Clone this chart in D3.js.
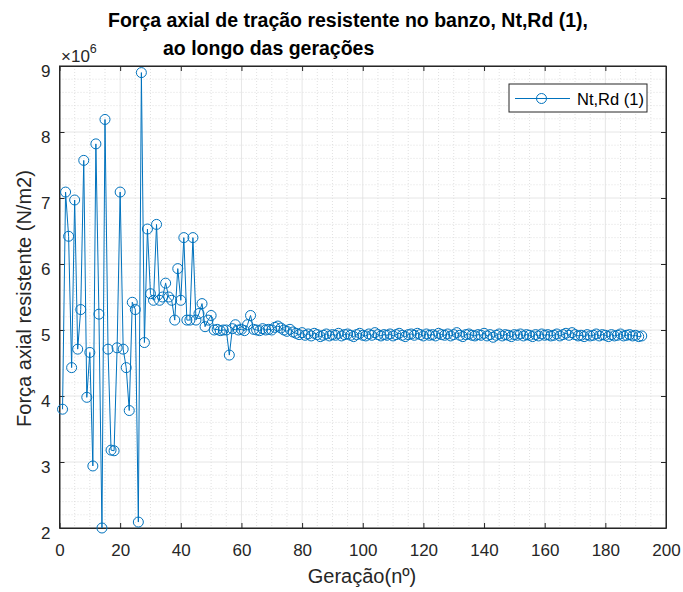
<!DOCTYPE html>
<html><head><meta charset="utf-8">
<script src="https://cdn.jsdelivr.net/npm/d3@7"></script>
<style>body{margin:0;background:#fff}svg{display:block}text{font-family:"Liberation Sans",Arial,sans-serif}</style>
</head><body>
<svg id="c" width="683" height="592"></svg>
<script>
// Values in units of 10^6 N/m2, generation 1..192
const values = [
 3.80,7.09,6.42,4.43,6.97,4.71,5.31,7.57,3.98,4.66,
 2.94,7.82,5.24,2.00,8.19,4.71,3.18,3.17,4.73,7.09,
 4.71,4.43,3.78,5.42,5.31,2.09,8.90,4.81,6.53,5.55,
 5.45,6.60,5.45,5.50,5.71,5.50,5.45,5.15,5.93,5.45,
 6.40,5.15,5.15,6.40,5.15,5.25,5.40,5.05,5.15,5.22,
 5.00,5.01,4.99,5.00,5.00,4.62,5.02,5.08,5.00,5.01,
 4.99,5.08,5.22,5.01,5.00,4.99,5.02,5.00,5.01,5.00,
 5.04,5.06,5.03,5.00,4.98,5.01,4.97,4.95,4.93,4.96,
 4.92,4.94,4.91,4.95,4.93,4.90,4.92,4.94,4.91,4.93,
 4.92,4.95,4.91,4.93,4.94,4.92,4.90,4.93,4.95,4.92,
 4.91,4.94,4.92,4.96,4.93,4.91,4.93,4.92,4.94,4.91,
 4.93,4.95,4.92,4.90,4.93,4.94,4.92,4.95,4.93,4.91,
 4.94,4.92,4.93,4.91,4.95,4.93,4.92,4.94,4.91,4.93,
 4.96,4.92,4.90,4.93,4.94,4.92,4.91,4.93,4.92,4.95,
 4.91,4.93,4.89,4.92,4.94,4.91,4.93,4.92,4.90,4.93,
 4.92,4.94,4.91,4.93,4.92,4.90,4.93,4.91,4.94,4.92,
 4.93,4.91,4.92,4.94,4.91,4.93,4.95,4.92,4.96,4.93,
 4.91,4.92,4.90,4.93,4.91,4.92,4.94,4.91,4.93,4.92,
 4.90,4.93,4.91,4.92,4.94,4.91,4.92,4.93,4.91,4.92,
 4.90,4.91
];
const generations = values.map((v,i)=>i+1);
const xTicks = [0,20,40,60,80,100,120,140,160,180,200];
const yTicks = [2,3,4,5,6,7,8,9];
const titleLines = ["Força axial de tração resistente no banzo, Nt,Rd (1),","ao longo das gerações"];
const xLabel = "Geração(nº)";
const yLabel = "Força axial resistente (N/m2)";
const seriesName = "Nt,Rd (1)";

const svg = d3.select("#c");
const L=59.5, R=666, T=66, B=528;
const x = d3.scaleLinear().domain([0,200]).range([L,R]);
const y = d3.scaleLinear().domain([2,9]).range([B,T]);
const blue = "#0072BD", ax="#262626";

// minor grid
const gMinor = svg.append("g");
d3.range(0,201,5).filter(v=>v%20!==0).forEach(v=>{
  gMinor.append("line").attr("x1",x(v)).attr("x2",x(v)).attr("y1",T).attr("y2",B)
   .attr("stroke","#d8d8d8").attr("stroke-width",0.8).attr("stroke-dasharray","1,2");
});
d3.range(20,91,2).map(v=>v/10).filter(v=>Math.abs(v-Math.round(v))>1e-6).forEach(v=>{
  gMinor.append("line").attr("x1",L).attr("x2",R).attr("y1",y(v)).attr("y2",y(v))
   .attr("stroke","#d8d8d8").attr("stroke-width",0.8).attr("stroke-dasharray","1,2");
});
// major grid
const gMaj = svg.append("g");
xTicks.forEach(v=>gMaj.append("line").attr("x1",x(v)).attr("x2",x(v)).attr("y1",T).attr("y2",B).attr("stroke","#e0e0e0").attr("stroke-width",0.8));
yTicks.forEach(v=>gMaj.append("line").attr("x1",L).attr("x2",R).attr("y1",y(v)).attr("y2",y(v)).attr("stroke","#e0e0e0").attr("stroke-width",0.8));

// axes
const xAx = svg.append("g").attr("transform",`translate(0,${B})`)
  .call(d3.axisBottom(x).tickValues(xTicks).tickSizeInner(-5).tickSizeOuter(0).tickPadding(16).tickFormat(d3.format("d")));
const xAxTop = svg.append("g").attr("transform",`translate(0,${T})`)
  .call(d3.axisTop(x).tickValues(xTicks).tickSizeInner(-5).tickSizeOuter(0).tickFormat(""));
const yAx = svg.append("g").attr("transform",`translate(${L},0)`)
  .call(d3.axisLeft(y).tickValues(yTicks).tickSizeInner(-5).tickSizeOuter(0).tickPadding(9).tickFormat(d3.format("d")));
const yAxR = svg.append("g").attr("transform",`translate(${R},0)`)
  .call(d3.axisRight(y).tickValues(yTicks).tickSizeInner(-5).tickSizeOuter(0).tickFormat(""));
[xAx,xAxTop,yAx,yAxR].forEach(g=>{
  g.selectAll("path.domain").attr("stroke",ax).attr("stroke-width",1);
  g.selectAll(".tick line").attr("stroke",ax);
  g.selectAll("text").attr("fill",ax).style("font-size","17px").style("font-family","Liberation Sans, Arial, sans-serif");
});
yAx.selectAll("text").attr("dy","0.6em");
svg.append("rect").attr("x",L).attr("y",T).attr("width",R-L).attr("height",B-T).attr("fill","none").attr("stroke",ax).attr("stroke-width",1);

// exponent
const ex = svg.append("text").attr("x",61).attr("y",62).attr("fill",ax).style("font-size","17px");
ex.append("tspan").text("×10");
ex.append("tspan").attr("dy",-9).style("font-size","12.5px").text("6");

// series
const line = d3.line().x((d,i)=>x(generations[i])).y(d=>y(d));
svg.append("path").datum(values).attr("d",line).attr("fill","none").attr("stroke",blue).attr("stroke-width",1);
svg.append("g").selectAll("circle").data(values).join("circle")
  .attr("cx",(d,i)=>x(generations[i])).attr("cy",d=>y(d)).attr("r",5)
  .attr("fill","none").attr("stroke",blue).attr("stroke-width",1);

// legend
const lg = svg.append("g");
lg.append("rect").attr("x",509).attr("y",84).attr("width",138).attr("height",28).attr("fill","#fff").attr("stroke",ax).attr("stroke-width",1);
lg.append("line").attr("x1",515).attr("x2",570).attr("y1",98.5).attr("y2",98.5).attr("stroke",blue).attr("stroke-width",1);
lg.append("circle").attr("cx",541.5).attr("cy",98.5).attr("r",5).attr("fill","none").attr("stroke",blue);
lg.append("text").attr("x",577).attr("y",104.5).attr("fill","#000").style("font-size","16.5px").text(seriesName);

// titles
svg.append("text").attr("x",348).attr("y",27).attr("text-anchor","middle").attr("font-weight","bold").style("font-size","19.5px").attr("fill","#000").text(titleLines[0]);
svg.append("text").attr("x",163).attr("y",55).attr("text-anchor","start").attr("font-weight","bold").style("font-size","19.5px").attr("fill","#000").text(titleLines[1]);
svg.append("text").attr("x",362).attr("y",583).attr("text-anchor","middle").attr("fill",ax).style("font-size","20px").text(xLabel);
svg.append("text").attr("transform","translate(31,298.5) rotate(-90)").attr("text-anchor","middle").attr("fill",ax).style("font-size","20px").text(yLabel);
</script>
</body></html>
